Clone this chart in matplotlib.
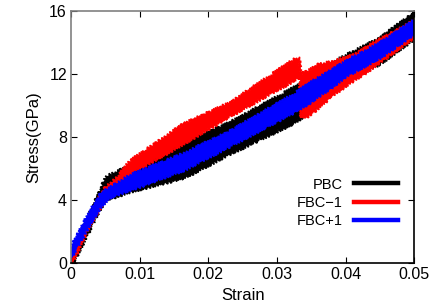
import matplotlib
matplotlib.use("Agg")
import matplotlib.pyplot as plt

plt.rcParams['font.family'] = ['Liberation Sans', 'DejaVu Sans']

# band envelopes (upper / lower edge)
pbc_strain = [0.0, 0.0022, 0.0041, 0.0051, 0.0066, 0.0086, 0.0166, 0.0232, 0.0327, 0.036, 0.040, 0.045, 0.050]
pbc_upper = [0.6, 2.7, 4.5, 5.5, 5.8, 6.2, 7.7, 8.95, 11.2, 12.1, 13.2, 14.3, 15.9]
pbc_lower = [-0.3, 1.6, 3.3, 4.0, 4.2, 4.5, 5.4, 6.9, 8.9, 10.0, 11.5, 12.6, 14.2]

fbcm_strain = [0.0, 0.0022, 0.0041, 0.005, 0.0066, 0.0086, 0.0166, 0.0232, 0.0327, 0.0333, 0.0335,
               0.0345, 0.036, 0.038, 0.041, 0.045, 0.050]
fbcm_upper = [0.3, 2.5, 4.2, 4.8, 5.4, 6.5, 8.9, 10.2, 13.0, 13.0, 12.0, 12.2, 12.6, 12.8, 13.2, 14.2, 15.4]
fbcm_lower = [-0.2, 1.9, 3.4, 4.0, 4.6, 5.6, 7.6, 9.3, 11.6, 11.8, 9.2, 9.3, 9.8, 10.6, 11.5, 12.7, 14.3]

fbcp_strain = [0.0, 0.0022, 0.0041, 0.0055, 0.0065, 0.0086, 0.0166, 0.0232, 0.0327, 0.035, 0.040, 0.045, 0.050]
fbcp_upper = [1.0, 2.9, 4.3, 4.8, 5.0, 5.6, 7.0, 8.4, 10.8, 11.5, 12.8, 14.0, 15.4]
fbcp_lower = [0.3, 2.0, 3.4, 4.1, 4.3, 4.6, 5.9, 7.4, 9.6, 10.2, 11.8, 13.0, 14.5]

labels = ['PBC', 'FBC\u22121', 'FBC+1']
colors = ['black', '#ff0000', '#0000ff']

x_ticks = [0, 0.01, 0.02, 0.03, 0.04, 0.05]
x_ticklabels = ['0', '0.01', '0.02', '0.03', '0.04', '0.05']
y_ticks = [0, 4, 8, 12, 16]

fig = plt.figure(figsize=(4.36, 3.06), dpi=100)
ax = fig.add_axes([0.163, 0.1405, 0.787, 0.8235])

bands = [(pbc_strain, pbc_upper, pbc_lower),
         (fbcm_strain, fbcm_upper, fbcm_lower),
         (fbcp_strain, fbcp_upper, fbcp_lower)]

for (s, up, lo), lab, c in zip(bands, labels, colors):
    # closed outline: upper edge left->right, lower edge back
    xs = list(s) + list(s[::-1])
    ys = list(up) + list(lo[::-1])
    patch, = ax.fill(xs, ys, color=c, linewidth=1.0)
    patch.set_sketch_params(scale=1.6, length=3, randomness=2)
    ax.plot([], [], color=c, linewidth=3.2, label=lab)

ax.set_xlim(0, 0.05)
ax.set_ylim(0, 16)
ax.set_xticks(x_ticks)
ax.set_xticklabels(x_ticklabels)
ax.set_yticks(y_ticks)
ax.tick_params(direction='in', top=True, right=True, length=4, labelsize=11.5, pad=3)

for side in ['left', 'top']:
    ax.spines[side].set_color('#808080')
for side in ['right', 'bottom']:
    ax.spines[side].set_color('black')
for sp in ax.spines.values():
    sp.set_linewidth(1.2)

ax.set_xlabel('Strain', fontsize=12, labelpad=4)
ax.set_ylabel('Stress(GPa)', fontsize=12, labelpad=6)

ax.legend(loc='center right', bbox_to_anchor=(0.913, 0.337), bbox_transform=fig.transFigure,
          frameon=False, markerfirst=False, fontsize=10.5, handlelength=3.0,
          handletextpad=0.8, labelspacing=0.3, borderpad=0, borderaxespad=0)

fig.savefig('out.png', dpi=100)
